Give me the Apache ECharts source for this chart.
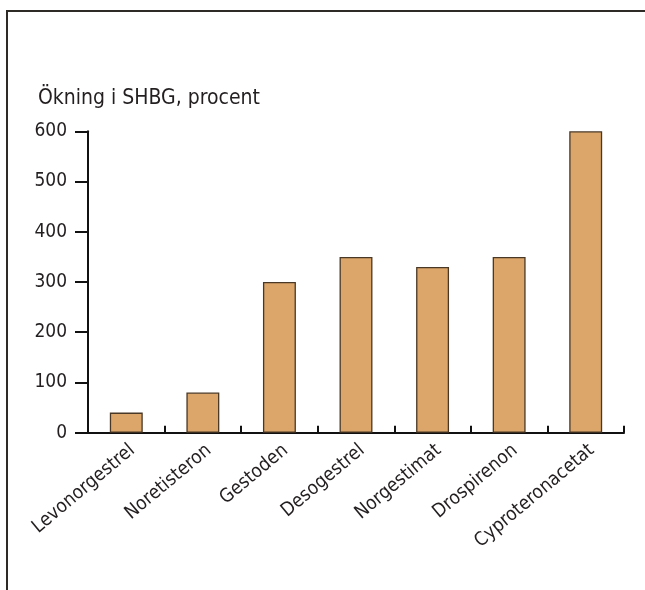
<!DOCTYPE html>
<html>
<head>
<meta charset="utf-8">
<script src="https://cdn.jsdelivr.net/npm/echarts@6/dist/echarts.min.js"></script>
<style>
  html, body { margin: 0; padding: 0; background: #ffffff; }
  #wrap { position: relative; width: 645px; height: 590px; overflow: hidden; }
  #frame { position: absolute; left: 6px; top: 10px; width: 700px; height: 700px;
           border-left: 2px solid #2e2a26; border-top: 2px solid #2e2a26; }
  #chart { position: absolute; left: 0; top: 0; width: 645px; height: 590px; }
</style>
</head>
<body>
<div id="wrap">
  <div id="frame"></div>
  <div id="chart"></div>
</div>
<script>
// Ökning i SHBG per gestagen (procent)
const categories = ['Levonorgestrel', 'Noretisteron', 'Gestoden', 'Desogestrel',
                    'Norgestimat', 'Drospirenon', 'Cyproteronacetat'];
const shbgIncrease = [40, 80, 300, 350, 330, 350, 600];
const yTicks = { min: 0, max: 600, interval: 100 };
const axisTitle = 'Ökning i SHBG, procent';

const ink = '#231f20';
const face = '"DejaVu Sans Condensed", "Liberation Sans", sans-serif';
const chart = echarts.init(document.getElementById('chart'), null, { renderer: 'canvas' });

chart.setOption({
  animation: false,
  backgroundColor: 'transparent',
  title: {
    text: axisTitle,
    left: 33,
    top: 83,
    textStyle: { fontFamily: face, fontSize: 21, fontWeight: 'normal', color: ink }
  },
  grid: { left: 88, right: 21, top: 131.3, bottom: 157.3, containLabel: false },
  xAxis: {
    type: 'category',
    data: categories,
    axisLine: { show: true, lineStyle: { color: '#111', width: 2 } },
    axisTick: { show: true, inside: true, length: 7, lineStyle: { color: '#111', width: 2 } },
    axisLabel: {
      rotate: 40,
      margin: 8,
      interval: 0,
      verticalAlign: 'top',
      fontFamily: face,
      fontSize: 19,
      color: ink
    },
    splitLine: { show: false }
  },
  yAxis: {
    type: 'value',
    min: yTicks.min,
    max: yTicks.max,
    interval: yTicks.interval,
    axisLine: { show: true, lineStyle: { color: '#111', width: 2 } },
    axisTick: { show: true, inside: false, length: 13, lineStyle: { color: '#111', width: 2 } },
    axisLabel: {
      margin: 21,
      fontFamily: face,
      fontSize: 19,
      color: ink
    },
    splitLine: { show: false }
  },
  series: [{
    type: 'bar',
    data: shbgIncrease,
    barWidth: '43%',
    itemStyle: { color: '#dca66a', borderColor: '#4a3826', borderWidth: 1.3 },
    z: 1
  }]
});
</script>
</body>
</html>
